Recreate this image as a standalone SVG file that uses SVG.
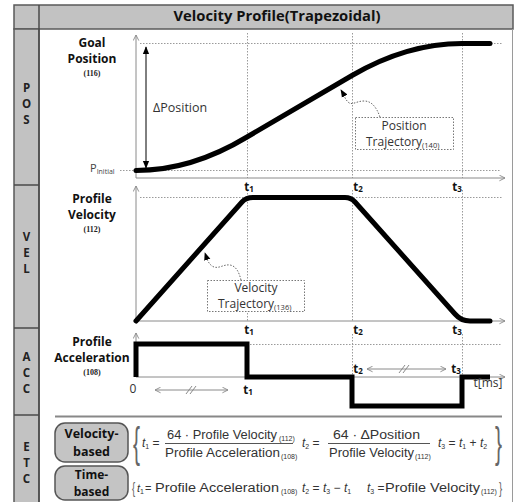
<svg xmlns="http://www.w3.org/2000/svg" width="515" height="502" viewBox="0 0 515 502">
<defs>
<style>
.frame{fill:#c2c2c2;stroke:#5a5a5a;stroke-width:1.5}
.sep{stroke:#4a4a4a;stroke-width:1.5}
.side{font-family:"Open Sans","DejaVu Sans",sans-serif;font-weight:bold;font-size:11.5px;fill:#222;text-anchor:middle}
.title{font-family:"Open Sans","DejaVu Sans",sans-serif;font-weight:bold;font-size:14px;fill:#111;text-anchor:middle}
.lbl{font-family:"Open Sans","DejaVu Sans",sans-serif;font-weight:bold;font-size:12px;fill:#111;text-anchor:middle}
.num{font-family:"Liberation Serif",serif;font-weight:bold;font-size:8px;fill:#222;text-anchor:middle}
.tl{font-family:"Open Sans","DejaVu Sans",sans-serif;font-weight:bold;font-size:11.5px;fill:#111;text-anchor:middle}
.reg{font-family:"Open Sans","DejaVu Sans",sans-serif;font-size:12px;fill:#333}
.fm{font-family:"Liberation Sans",Arial,sans-serif;font-size:12px;fill:#333}
.it{font-style:italic}
.axis{stroke:#8a8a8a;stroke-width:1;fill:none}
.dot{stroke:#9a9a9a;stroke-width:1;stroke-dasharray:1.5 1.5;fill:none}
.thick{stroke:#000;stroke-width:5;fill:none;stroke-linecap:round;stroke-linejoin:round}
.leader{stroke:#666;stroke-width:1;stroke-dasharray:1.5 1.5;fill:none}
.box{fill:#fff;stroke:#777;stroke-width:1;stroke-dasharray:1.5 1.5}
.garrow{stroke:#8a8a8a;stroke-width:1;fill:none}
.btn{fill:#c4c4c4;stroke:#555;stroke-width:1.5}
.frac{stroke:#555;stroke-width:1}
</style>
<marker id="open" viewBox="0 0 10 10" refX="9" refY="5" markerWidth="7" markerHeight="7" orient="auto-start-reverse" markerUnits="userSpaceOnUse">
<path d="M1,1 L9,5 L1,9" fill="none" stroke="#8a8a8a" stroke-width="1.3"/>
</marker>
<marker id="blk" viewBox="0 0 10 10" refX="9" refY="5" markerWidth="8" markerHeight="8" orient="auto-start-reverse" markerUnits="userSpaceOnUse">
<path d="M0,1 L10,5 L0,9 Z" fill="#000"/>
</marker>
</defs>
<rect width="515" height="502" fill="#fff"/>

<g id="frame">
<rect x="14" y="5" width="499" height="24" class="frame"/>
<rect x="14" y="29" width="25" height="475" class="frame"/>
<line x1="512.5" y1="29" x2="512.5" y2="502" stroke="#9a9a9a" stroke-width="1"/>
<line x1="14" y1="185" x2="39" y2="185" class="sep"/>
<line x1="14" y1="328" x2="39" y2="328" class="sep"/>
<line x1="14" y1="415" x2="39" y2="415" class="sep"/>
<line x1="39" y1="5" x2="39" y2="502" class="sep"/>
<text x="277" y="21" class="title" textLength="207" lengthAdjust="spacingAndGlyphs">Velocity Profile(Trapezoidal)</text>
</g>

<g id="side-labels">
<text class="side" x="26.5" y="92">P</text><text class="side" x="26.5" y="108">O</text><text class="side" x="26.5" y="124">S</text>
<text class="side" x="26.5" y="241">V</text><text class="side" x="26.5" y="257">E</text><text class="side" x="26.5" y="273">L</text>
<text class="side" x="26.5" y="361">A</text><text class="side" x="26.5" y="377">C</text><text class="side" x="26.5" y="393">C</text>
<text class="side" x="26.5" y="451">E</text><text class="side" x="26.5" y="467">T</text><text class="side" x="26.5" y="483">C</text>
</g>

<g id="grid">
<line x1="140" y1="43.5" x2="502" y2="43.5" class="dot"/>
<line x1="120" y1="170.5" x2="500" y2="170.5" class="dot"/>
<line x1="247.5" y1="33" x2="247.5" y2="178" class="dot"/>
<line x1="352.5" y1="33" x2="352.5" y2="178" class="dot"/>
<line x1="462.5" y1="33" x2="462.5" y2="178" class="dot"/>
<line x1="140" y1="197.5" x2="502" y2="197.5" class="dot"/>
<line x1="247.5" y1="190" x2="247.5" y2="321" class="dot"/>
<line x1="352.5" y1="190" x2="352.5" y2="321" class="dot"/>
<line x1="462.5" y1="190" x2="462.5" y2="321" class="dot"/>
<line x1="250" y1="344.5" x2="502" y2="344.5" class="dot"/>
<line x1="352.5" y1="334" x2="352.5" y2="377" class="dot"/>
<line x1="462.5" y1="334" x2="462.5" y2="377" class="dot"/>
</g>

<g id="pos-panel">
<line x1="136" y1="178" x2="136" y2="35" class="axis" marker-end="url(#open)"/>
<line x1="136" y1="178" x2="505" y2="178" class="axis" marker-end="url(#open)"/>
<text class="lbl" x="92" y="47">Goal</text>
<text class="lbl" x="92" y="63">Position</text>
<text class="num" x="92" y="76">(116)</text>
<text x="90" y="172" style="font-family:'Open Sans','DejaVu Sans',sans-serif;font-size:11px;fill:#444">P<tspan font-size="7" dy="2">Initial</tspan></text>
<text class="reg" x="153" y="112" style="font-size:12.5px">ΔPosition</text>
<path class="thick" d="M136,170.5 Q191.5,170.5 247,137 L352,75.5 Q407,43.5 462,43.5 L490,43.5"/>
</g>

<g id="vel-panel">
<line x1="136" y1="321" x2="136" y2="186" class="axis" marker-end="url(#open)"/>
<line x1="136" y1="321" x2="505" y2="321" class="axis" marker-end="url(#open)"/>
<text class="lbl" x="92" y="203">Profile</text>
<text class="lbl" x="92" y="219">Velocity</text>
<text class="num" x="92" y="232">(112)</text>
<path class="thick" d="M136,321 L242,202 Q246,197.5 253,197.5 L345,197.5 Q351,197.5 355,202 L455,314 Q461,321 470,321 L490,321"/>
</g>

<g id="acc-panel">
<line x1="136" y1="377" x2="136" y2="333" class="axis" marker-end="url(#open)"/>
<line x1="136" y1="377" x2="505" y2="377" class="axis" marker-end="url(#open)"/>
<text class="lbl" x="92" y="346">Profile</text>
<text class="lbl" x="92" y="362">Acceleration</text>
<text class="num" x="92" y="375">(108)</text>
<path d="M136,377 L136,344 L247,344 L247,377 L352,377 L352,406 L462,406 L462,377 L490,377" fill="none" stroke="#000" stroke-width="5" stroke-linejoin="miter"/>
<text x="133" y="393" style="font-family:'Open Sans','DejaVu Sans',sans-serif;font-size:12px;fill:#333;text-anchor:middle">0</text>
<text x="488" y="387" style="font-family:'Open Sans','DejaVu Sans',sans-serif;font-size:12px;fill:#333;text-anchor:middle">t[ms]</text>
</g>

<g id="time-labels">
<text class="tl" x="249" y="191">t<tspan font-size="8" dy="1">1</tspan></text>
<text class="tl" x="358" y="191">t<tspan font-size="8" dy="1">2</tspan></text>
<text class="tl" x="457" y="191">t<tspan font-size="8" dy="1">3</tspan></text>
<text class="tl" x="249" y="334">t<tspan font-size="8" dy="1">1</tspan></text>
<text class="tl" x="358" y="334">t<tspan font-size="8" dy="1">2</tspan></text>
<text class="tl" x="457" y="334">t<tspan font-size="8" dy="1">3</tspan></text>
<text class="tl" x="248" y="394">t<tspan font-size="8" dy="1">1</tspan></text>
<text class="tl" x="358" y="373">t<tspan font-size="8" dy="1">2</tspan></text>
<text class="tl" x="456" y="373">t<tspan font-size="8" dy="1">3</tspan></text>
</g>

<g id="callout-position">
<rect x="355.5" y="117.5" width="98" height="32" class="box"/>
<text class="reg" x="404" y="130" text-anchor="middle">Position</text>
<text class="reg" x="366" y="146">Trajectory<tspan font-size="7.5" dy="2">(140)</tspan></text>
</g>

<g id="callout-velocity">
<rect x="207.5" y="280.5" width="97" height="31" class="box"/>
<text class="reg" x="256" y="292" text-anchor="middle">Velocity</text>
<text class="reg" x="218" y="308">Trajectory<tspan font-size="7.5" dy="2">(136)</tspan></text>
</g>

<g id="connectors">
<line x1="146" y1="168" x2="146" y2="47" stroke="#000" stroke-width="1" marker-start="url(#blk)" marker-end="url(#blk)"/>
<path class="leader" d="M380,117 C376,106 371,101 364,101 C356,101 352,106 348,102 C345,99 344,95 341,90" marker-end="url(#blk)"/>
<path class="leader" d="M241,280 C239,272 236,266 230,265 C223,264 218,270 212,266 C208,263 207,259 205,253" marker-end="url(#blk)"/>
<line x1="155" y1="390" x2="228" y2="390" class="garrow" marker-start="url(#open)" marker-end="url(#open)"/>
<path d="M186,394 L192,386 M190,394 L196,386" stroke="#8a8a8a" stroke-width="1"/>
<line x1="367" y1="369" x2="446" y2="369" class="garrow" marker-start="url(#open)" marker-end="url(#open)"/>
<path d="M399,373 L405,365 M403,373 L409,365" stroke="#8a8a8a" stroke-width="1"/>
</g>

<g id="etc-panel">
<line x1="55" y1="416.5" x2="502" y2="416.5" stroke="#888" stroke-width="2"/>
<g id="btn-velocity">
<rect x="55" y="423" width="73" height="39" rx="10" class="btn"/>
<text class="lbl" x="91.5" y="438" style="font-size:12.5px">Velocity-</text>
<text class="lbl" x="91.5" y="456" style="font-size:12.5px">based</text>
</g>
<g id="btn-time">
<rect x="55" y="466" width="73" height="34" rx="10" class="btn"/>
<text class="lbl" x="91.5" y="479">Time-</text>
<text class="lbl" x="91.5" y="496">based</text>
</g>
<g id="formula-velocity">
<text class="fm" transform="translate(133,457) scale(0.5,1)" style="font-size:42px;fill:#666">{</text>
<text class="fm" x="142" y="447"><tspan class="it">t</tspan><tspan font-size="7" dy="2">1</tspan><tspan dy="-2"> =</tspan></text>
<text class="fm" x="167" y="439" textLength="110" lengthAdjust="spacingAndGlyphs">64 · Profile Velocity</text>
<text class="fm" x="279" y="441" style="font-size:7px">(112)</text>
<line x1="165" y1="443.5" x2="293" y2="443.5" class="frac"/>
<text class="fm" x="165" y="457" textLength="115" lengthAdjust="spacingAndGlyphs">Profile Acceleration</text>
<text class="fm" x="281" y="459" style="font-size:7px">(108)</text>
<text class="fm" x="302" y="447"><tspan class="it">t</tspan><tspan font-size="7" dy="2">2</tspan><tspan dy="-2"> =</tspan></text>
<text class="fm" x="333" y="439" textLength="87" lengthAdjust="spacingAndGlyphs">64 · ΔPosition</text>
<line x1="328" y1="443.5" x2="430" y2="443.5" class="frac"/>
<text class="fm" x="329" y="457" textLength="85" lengthAdjust="spacingAndGlyphs">Profile Velocity</text>
<text class="fm" x="415" y="459" style="font-size:7px">(112)</text>
<text class="fm" x="438" y="447"><tspan class="it">t</tspan><tspan font-size="7" dy="2">3</tspan><tspan dy="-2"> = </tspan><tspan class="it">t</tspan><tspan font-size="7" dy="2">1</tspan><tspan dy="-2"> + </tspan><tspan class="it">t</tspan><tspan font-size="7" dy="2">2</tspan></text>
<text class="fm" transform="translate(495,457) scale(0.5,1)" style="font-size:42px;fill:#666">}</text>
</g>
<g id="formula-time">
<text class="fm" transform="translate(132,494) scale(0.6,1)" style="font-size:16px;fill:#666">{</text>
<text class="fm" x="137" y="492" style="font-size:11px"><tspan class="it">t</tspan><tspan font-size="7" dy="2">1</tspan><tspan dy="-2" dx="1">=</tspan></text>
<text class="fm" x="155" y="492" textLength="124" lengthAdjust="spacingAndGlyphs">Profile Acceleration</text>
<text class="fm" x="281" y="494" style="font-size:7px">(108)</text>
<text class="fm" x="302" y="492"><tspan class="it">t</tspan><tspan font-size="7" dy="2">2</tspan><tspan dy="-2"> = </tspan><tspan class="it">t</tspan><tspan font-size="7" dy="2">3</tspan><tspan dy="-2"> − </tspan><tspan class="it">t</tspan><tspan font-size="7" dy="2">1</tspan></text>
<text class="fm" x="367" y="492"><tspan class="it">t</tspan><tspan font-size="7" dy="2">3</tspan><tspan dy="-2"> =</tspan></text>
<text class="fm" x="385" y="492" textLength="95" lengthAdjust="spacingAndGlyphs">Profile Velocity</text>
<text class="fm" x="481" y="494" style="font-size:7px">(112)</text>
<text class="fm" transform="translate(499,494) scale(0.6,1)" style="font-size:16px;fill:#666">}</text>
</g>
</g>
</svg>
